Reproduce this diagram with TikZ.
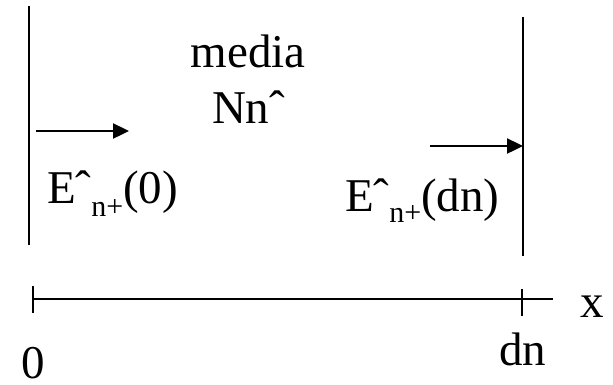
\documentclass[tikz,border=0pt]{standalone}
\usepackage{fontspec}
\setmainfont{Liberation Serif}
\usetikzlibrary{arrows.meta}
\newcommand{\hatc}{\char"02C6\relax}
\begin{document}
\begin{tikzpicture}[x=1pt,y=-1pt,
  lbl/.style={inner sep=0pt,outer sep=0pt,font=\fontsize{47}{50}\selectfont},
  wall/.style={line width=2.6pt},
  axisline/.style={line width=2.4pt},
  wave/.style={line width=2.4pt,-{Triangle[length=16pt,width=15pt]}}]
\useasboundingbox (0,0) rectangle (613,384);
\fill[white] (0,0) rectangle (613,384);
% walls
\coordinate (lt) at (29,6);
\coordinate (lb) at (29,245);
\coordinate (rt) at (523,17);
\coordinate (rb) at (523,256);
\draw[wall] (lt) -- (lb);
\draw[wall] (rt) -- (rb);
% axis
\coordinate (a0) at (33,299);
\coordinate (a1) at (553,299);
\coordinate (t0a) at (33,286);
\coordinate (t0b) at (33,313);
\coordinate (t1a) at (522,289);
\coordinate (t1b) at (522,316);
\draw[axisline] (a0) -- (a1);
\draw[axisline] (t0a) -- (t0b);
\draw[axisline] (t1a) -- (t1b);
% arrows
\coordinate (w0s) at (36,131);
\coordinate (w0e) at (129,131);
\coordinate (w1s) at (430,146);
\coordinate (w1e) at (523,146);
\draw[wave] (w0s) -- (w0e);
\draw[wave] (w1s) -- (w1e);
% labels
\node[lbl,anchor=base] (media) at (248,67) {media};
\node[lbl,anchor=base west] (Nn) at (212,123) {Nn\hatc};
\node[lbl,anchor=base west] (E0) at (47,203) {E\hatc\raisebox{-13pt}{\fontsize{30}{30}\selectfont n+}(0)};
\node[lbl,anchor=base west] (Edn) at (345,211) {E\hatc\raisebox{-11pt}{\fontsize{30}{30}\selectfont n+}(dn)};
\node[lbl,anchor=base west] (xl) at (580,317) {x};
\node[lbl,anchor=base west] (zero) at (21,378) {0};
\node[lbl,anchor=base west] (dn) at (499,365) {dn};
\end{tikzpicture}
\end{document}
